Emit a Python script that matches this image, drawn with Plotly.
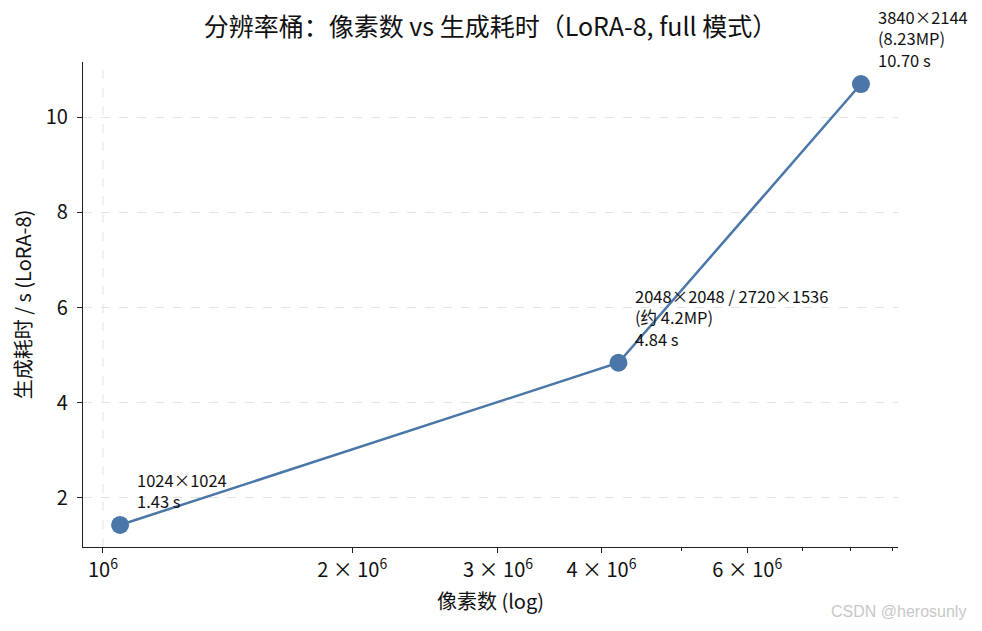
import numpy as np
import plotly.graph_objects as go

# resolution buckets (pixels) and generation time
pixels = [1024 * 1024, 2048 * 2048, 3840 * 2144]
seconds = [1.43, 4.84, 10.70]
labels = [
    "1024×1024<br>1.43 s",
    "2048×2048 / 2720×1536<br>(约 4.2MP)<br>4.84 s",
    "3840×2144<br>(8.23MP)<br>10.70 s",
]

x_tickvals = [1e6, 2e6, 3e6, 4e6, 6e6]
x_ticktext = ["10<sup>6</sup>", "2 × 10<sup>6</sup>", "3 × 10<sup>6</sup>",
              "4 × 10<sup>6</sup>", "6 × 10<sup>6</sup>"]
x_minor = [5e6, 7e6, 8e6, 9e6]
y_tickvals = [2, 4, 6, 8, 10]

font = "Noto Sans CJK SC"
blue = "#4a76a8"
grid = "#e3e3e3"

# matplotlib-style 5% margins
lx = np.log10(pixels)
pad_x = 0.05 * (lx.max() - lx.min())
x_range = [lx.min() - pad_x, lx.max() + pad_x]
pad_y = 0.05 * (max(seconds) - min(seconds))
y_range = [min(seconds) - pad_y, max(seconds) + pad_y]

fig = go.Figure()

# the only major x gridline (10^6)
fig.add_trace(go.Scatter(
    x=[x_tickvals[0], x_tickvals[0]], y=y_range, mode="lines",
    line=dict(color=grid, width=1, dash="dash"),
    hoverinfo="skip", showlegend=False
))

fig.add_trace(go.Scatter(
    x=pixels, y=seconds, mode="lines+markers",
    line=dict(color=blue, width=2.5),
    marker=dict(color=blue, size=18),
    showlegend=False
))

for px_, s, t in zip(pixels, seconds, labels):
    fig.add_annotation(
        x=np.log10(px_), y=s, text=t, showarrow=False,
        xanchor="left", yanchor="bottom", align="left",
        xshift=15, yshift=10,
        font=dict(family=font, size=16.5, color="#111111")
    )

fig.update_layout(
    width=982, height=631,
    margin=dict(l=75, r=92, t=54, b=92),
    plot_bgcolor="white", paper_bgcolor="white",
    font=dict(family=font, color="#111111"),
    title=dict(text="分辨率桶：像素数 vs 生成耗时（LoRA-8, full 模式）",
               x=0.5, xref="paper", xanchor="center", y=1.0, yref="container",
               yanchor="top", pad=dict(t=10),
               font=dict(size=25, family=font)),
)

fig.update_xaxes(
    type="log", range=x_range,
    tickvals=x_tickvals, ticktext=x_ticktext,
    ticks="outside", ticklen=5, tickwidth=1, tickcolor="#222222",
    minor=dict(tickvals=x_minor, ticks="outside", ticklen=3, tickcolor="#222222", showgrid=False),
    showgrid=False, zeroline=False,
    showline=True, linecolor="#222222", linewidth=1.3,
    tickfont=dict(size=20, family=font),
    title=dict(text="像素数 (log)", font=dict(size=20, family=font), standoff=12),
)
fig.update_yaxes(
    range=y_range, tickvals=y_tickvals,
    ticks="outside", ticklen=5, tickwidth=1, tickcolor="#222222",
    ticklabelstandoff=5,
    showgrid=True, gridcolor=grid, griddash="dash", gridwidth=1,
    zeroline=False,
    showline=True, linecolor="#222222", linewidth=1.3,
    tickfont=dict(size=20, family=font),
    title=dict(text="生成耗时 / s (LoRA-8)", font=dict(size=20, family=font), standoff=12),
)

fig.add_annotation(
    text="CSDN @herosunly", xref="paper", yref="paper",
    x=1.086, y=-0.134, xanchor="right", yanchor="middle", showarrow=False,
    font=dict(family="Liberation Sans", size=16, color="#c8c8c8")
)

fig.write_html("out.html")
